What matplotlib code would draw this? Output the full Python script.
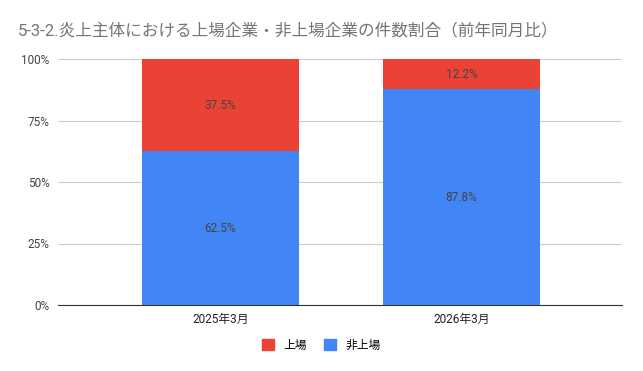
import numpy as np
import matplotlib.pyplot as plt
from matplotlib.patches import Patch

plt.rcParams['font.family'] = ['Roboto', 'Noto Sans CJK JP', 'DejaVu Sans']

categories = ['2025年3月', '2026年3月']
listed = [37.5, 12.2]
unlisted = [62.5, 87.8]
series_names = ['上場', '非上場']
colors = ['#EA4335', '#4285F4']

fig = plt.figure(figsize=(6.43, 3.71), dpi=100)
ax = fig.add_axes([58 / 643, 1 - 305 / 371, 564 / 643, 246 / 371])

x = np.arange(len(categories))
w = 0.651
ax.bar(x, unlisted, w, color=colors[1], zorder=2)
ax.bar(x, listed, w, bottom=unlisted, color=colors[0], zorder=2)

for i in range(len(categories)):
    ax.text(x[i], unlisted[i] / 2, f'{unlisted[i]:.1f}%', ha='center', va='center',
            fontsize=8.5, color='#444444', zorder=3)
    ax.text(x[i], unlisted[i] + listed[i] / 2, f'{listed[i]:.1f}%', ha='center', va='center',
            fontsize=8.5, color='#444444', zorder=3)

ax.set_xlim(-0.674, 1.666)
ax.set_ylim(0, 100)
ax.set_yticks([0, 25, 50, 75, 100])
ax.set_yticklabels(['0%', '25%', '50%', '75%', '100%'])
ax.set_xticks(x)
ax.set_xticklabels(categories)
ax.tick_params(length=0, labelsize=8.5, colors='#222222')
ax.tick_params(axis='y', pad=6, labelcolor='#444444')
ax.tick_params(axis='x', pad=6)
ax.grid(axis='y', color='#cccccc', linewidth=0.8, zorder=0)
for s in ['top', 'right', 'left']:
    ax.spines[s].set_visible(False)
ax.spines['bottom'].set_color('#333333')
ax.spines['bottom'].set_zorder(4)

fig.text(18 / 643, 1 - 30 / 371, '5-3-2.炎上主体における上場企業・非上場企業の件数割合（前年同月比）',
         fontsize=12, color='#757575', va='center', ha='left')

handles = [Patch(color=colors[0], label=series_names[0]),
           Patch(color=colors[1], label=series_names[1])]
fig.legend(handles=handles, loc='center', bbox_to_anchor=(0.5, 1 - 345 / 371), ncol=2,
           frameon=False, fontsize=8.5, handlelength=1, handleheight=1, handletextpad=0.8,
           columnspacing=1.5)

fig.savefig('out.png', dpi=100)
